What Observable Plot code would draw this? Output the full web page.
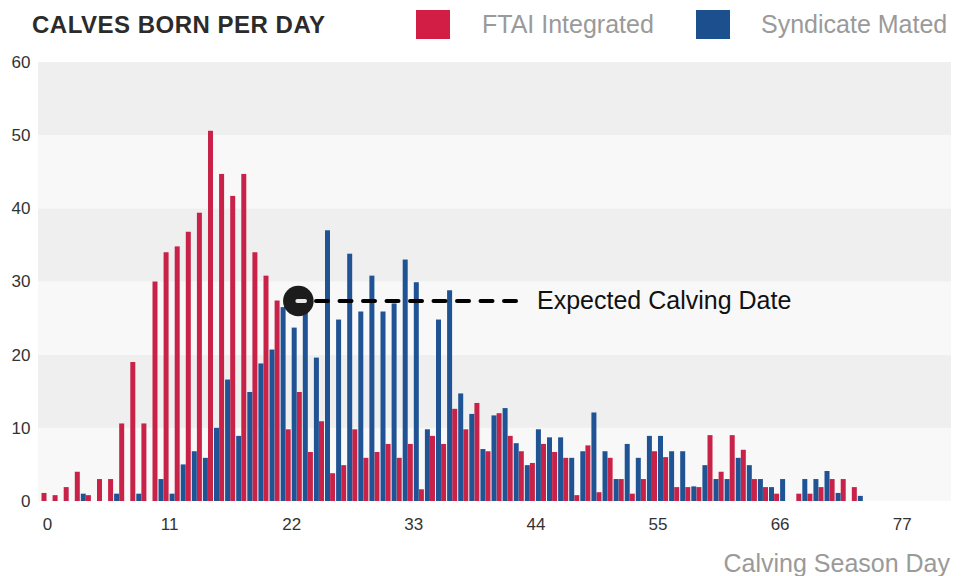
<!DOCTYPE html>
<html>
<head>
<meta charset="utf-8">
<script src="https://cdn.jsdelivr.net/npm/d3@7"></script>
<script src="https://cdn.jsdelivr.net/npm/@observablehq/plot@0.6"></script>
<style>
  html, body { margin: 0; padding: 0; background: #fff; }
  #wrap { position: relative; width: 967px; height: 576px; overflow: hidden; font-family: "Liberation Sans", Arial, sans-serif; }
  #wrap svg { position: absolute; left: 0; top: 0; }
  .abs { position: absolute; white-space: nowrap; line-height: 1; }
  .title { left: 32px; top: 13px; font-size: 24px; font-weight: bold; color: #2b2b2b; letter-spacing: 0.5px; }
  .sw { width: 34px; height: 29px; top: 10px; }
  .lg { top: 12px; font-size: 25px; color: #9a9a9a; }
  .xtitle { right: 17px; top: 551px; font-size: 25px; color: #9a9a9a; }
</style>
</head>
<body>
<div id="wrap"></div>
<script>
// ---- data ----
const days = d3.range(0, 74);
const ftai = [1.1, 0.8, 1.9, 4.0, 0.8, 3.0, 3.0, 10.6, 19.0, 10.6,
  30.0, 34.0, 34.8, 36.8, 39.4, 50.6, 44.7, 41.7, 44.7, 34.0,
  30.8, 27.4, 9.8, 14.9, 6.7, 10.9, 3.8, 4.9, 9.8, 5.9,
  6.7, 7.8, 5.9, 7.8, 1.6, 8.9, 7.8, 12.6, 9.8, 13.4,
  6.8, 12.0, 8.9, 6.8, 5.2, 7.8, 6.7, 5.9, 0.8, 7.6,
  1.2, 5.9, 3.0, 1.0, 3.0, 6.8, 6.0, 1.9, 1.9, 1.9,
  9.0, 4.0, 9.0, 7.0, 3.0, 1.9, 1.0, 0, 1.0, 1.0,
  1.9, 3.0, 3.0, 1.9];
const syndicate = [0, 0, 0, 1.0, 0, 0, 1.0, 0, 1.0, 0,
  3.0, 1.0, 5.0, 6.8, 5.9, 10.0, 16.6, 8.9, 14.9, 18.8,
  20.7, 26.5, 23.7, 27.6, 19.6, 37.0, 24.8, 33.8, 25.9, 30.8,
  25.9, 27.0, 33.0, 29.9, 9.8, 24.8, 28.8, 14.7, 11.9, 7.1,
  11.7, 12.7, 7.9, 4.9, 9.8, 8.7, 8.7, 5.9, 6.8, 12.1,
  6.8, 3.0, 7.8, 5.9, 8.9, 8.9, 6.8, 6.8, 2.0, 4.9,
  3.0, 3.0, 5.9, 4.9, 3.0, 1.9, 3.0, 0, 3.0, 3.0,
  4.1, 1.1, 0, 0.7];
const seriesNames = ["FTAI Integrated", "Syndicate Mated"];
const xTicks = [0, 11, 22, 33, 44, 55, 66, 77];
const yTicks = [0, 10, 20, 30, 40, 50, 60];
const annotationDay = [22.6];
const annotationValue = [27.4];
const annotationLineDays = [24.19, 42.22];
const annotationLabelDay = [44.1];
const annotationLabel = ["Expected Calving Date"];

// ---- styles ----
const barColors = ["#C82249", "#1F5394"];
const legendColors = ["#D21E44", "#1B4F8E"];
const bandColors = ["#f8f8f8", "#efefef"];

const redRows = days.map((d, i) => ({day: d, v: ftai[i]})).filter(r => r.v > 0);
const blueRows = days.map((d, i) => ({day: d, v: syndicate[i]})).filter(r => r.v > 0);
const bands = yTicks.slice(0, -1).map((t, i) => ({y1: t, y2: yTicks[i + 1], k: i % 2}));
const ann = [{day: annotationDay[0], v: annotationValue[0]}];

const chart = Plot.plot({
  width: 967,
  height: 576,
  marginLeft: 38,
  marginRight: 16,
  marginTop: 62,
  marginBottom: 75,
  style: {fontFamily: '"Liberation Sans", Arial, sans-serif', fontSize: "17px", color: "#333", background: "transparent"},
  x: {domain: [-0.81, 81.44], ticks: xTicks, tickSize: 0, tickPadding: 16, label: null, tickFormat: d => String(d)},
  y: {domain: [0, 60], ticks: yTicks, tickSize: 0, tickPadding: 8, label: null},
  marks: [
    Plot.rect(bands, {y1: "y1", y2: "y2", fill: d => bandColors[d.k]}),
    Plot.rectY(redRows, {x1: d => d.day - 0.495, x2: d => d.day - 0.045, y1: 0, y2: "v", fill: barColors[0], inset: 0}),
    Plot.rectY(blueRows, {x1: d => d.day + 0.045, x2: d => d.day + 0.495, y1: 0, y2: "v", fill: barColors[1], inset: 0}),
    Plot.link(ann, {x1: annotationLineDays[0], x2: annotationLineDays[1], y1: "v", y2: "v",
      stroke: "#000", strokeWidth: 4, strokeDasharray: "12 11.5", strokeLinecap: "round"}),
    Plot.dot(ann, {x: "day", y: "v", r: 15.3, fill: "#1c1c1c", stroke: "none"}),
    Plot.link(ann, {x1: d => d.day - 0.09, x2: d => d.day + 0.6, y1: "v", y2: "v",
      stroke: "#e8e8e8", strokeWidth: 4, strokeLinecap: "round"}),
    Plot.text(ann, {x: annotationLabelDay[0], y: "v", text: () => annotationLabel[0], textAnchor: "start",
      fontSize: 25, fill: "#111"})
  ]
});

const wrap = document.getElementById("wrap");
wrap.appendChild(chart);

function addDiv(cls, text, style) {
  const el = document.createElement("div");
  el.className = "abs " + cls;
  if (text) el.textContent = text;
  Object.assign(el.style, style || {});
  wrap.appendChild(el);
  return el;
}
addDiv("title", "CALVES BORN PER DAY");
addDiv("sw", "", {left: "416px", background: legendColors[0]});
addDiv("lg", seriesNames[0], {left: "482px"});
addDiv("sw", "", {left: "696px", background: legendColors[1]});
addDiv("lg", seriesNames[1], {left: "761px"});
addDiv("xtitle", "Calving Season Day");
</script>
</body>
</html>
